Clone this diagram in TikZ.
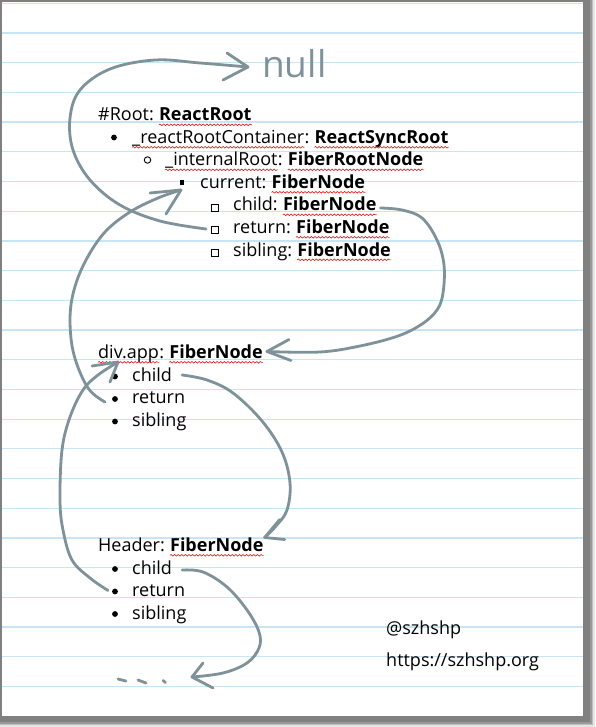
\documentclass[tikz,border=0pt]{standalone}
\usepackage{fontspec}
\setmainfont{Open Sans}
\usetikzlibrary{calc,decorations.pathmorphing}
\definecolor{spell}{RGB}{230,20,20}
\definecolor{ink}{RGB}{127,146,153}
\definecolor{rulec}{RGB}{200,229,245}
\definecolor{framec}{RGB}{128,128,128}
\newcommand\wavyunder[1]{\draw[squig] ([yshift=-3.8pt]#1.base west) -- ([yshift=-3.8pt]#1.base east);}
\newcommand\gap{\kern0.27em}
\begin{document}
\begin{tikzpicture}[x=1pt,y=-1pt,
  txt/.style={anchor=base west,inner sep=0pt,font=\fontsize{18}{21}\selectfont},
  btxt/.style={anchor=base west,inner sep=0pt,font=\fontsize{18}{21}\selectfont\bfseries},
  squig/.style={draw=spell,line width=0.6pt,decorate,decoration={snake,segment length=3.6pt,amplitude=0.8pt}},
  inkline/.style={draw=ink,line width=2.8pt,line cap=round,line join=round},
  dotb/.style={circle,fill=black,inner sep=0pt,minimum size=5.8pt},
  ocirc/.style={circle,draw=black,line width=0.9pt,inner sep=0pt,minimum size=6.5pt},
  fsq/.style={rectangle,fill=black,inner sep=0pt,minimum size=4.5pt},
  osq/.style={rectangle,draw=black,line width=0.9pt,inner sep=0pt,minimum size=7pt},
  rl/.style={draw=rulec,line width=1.2pt}
]
\useasboundingbox (0,0) rectangle (595,727);
% frame and shadow
\fill[white] (0,0) rectangle (595,727);
\fill[black!10] (0,0) rectangle (594.5,726.5);
\fill[black!25] (0,0) rectangle (593,725);
\fill[black!40] (0,0) rectangle (591.5,723.5);
\fill[framec] (0,0) rectangle (589.5,721.5);
\fill[white] (2,2) rectangle (583,716);
% ruled lines
\foreach \k in {0,...,23}{
  \draw[rl] (2,{3.3+29.7*\k}) -- (583,{3.3+29.7*\k});
}
% root block
\node[txt] (r1) at (98,121) {\#Root:\gap};
\node[btxt] (r2) at (r1.base east) {ReactRoot};
\node[dotb] (m1) at (114,137.5) {};
\node[txt] (c1) at (132,143.5) {\_reactRootContainer};
\node[txt] (c2) at (c1.base east) {:\gap};
\node[btxt] (c3) at (c2.base east) {ReactSyncRoot};
\node[ocirc] (m2) at (147.5,160) {};
\node[txt] (i1) at (165,166) {\_internalRoot};
\node[txt] (i2) at (i1.base east) {:\gap};
\node[btxt] (i3) at (i2.base east) {FiberRootNode};
\node[fsq] (mcur) at (182,182.5) {};
\node[txt] (cur) at (200,188.5) {current:\gap};
\node[btxt] (curf) at (cur.base east) {FiberNode};
\node[osq] (mch) at (215,207.5) {};
\node[txt] (rch) at (233,211) {child:\gap};
\node[btxt] (rchf) at (rch.base east) {FiberNode};
\node[osq] (mret) at (215,230) {};
\node[txt] (rret) at (233,233.5) {return:\gap};
\node[btxt] (rretf) at (rret.base east) {FiberNode};
\node[osq] (msib) at (215,252.5) {};
\node[txt] (rsib) at (233,256) {sibling:\gap};
\node[btxt] (rsibf) at (rsib.base east) {FiberNode};
% div.app block
\node[txt] (dapp) at (98,358.5) {div.app};
\node[txt] (dapp2) at (dapp.base east) {:\gap};
\node[btxt] (dappf) at (dapp2.base east) {FiberNode};
\node[dotb] (dm1) at (115,376.5) {};
\node[txt] (dch) at (132,381) {child};
\node[dotb] (dm2) at (115,399) {};
\node[txt] (dret) at (132,403.5) {return};
\node[dotb] (dm3) at (115,421.5) {};
\node[txt] (dsib) at (132,426) {sibling};
% Header block
\node[txt] (hdr) at (98,551.5) {Header:\gap};
\node[btxt] (hdrf) at (hdr.base east) {FiberNode};
\node[dotb] (hm1) at (115,569) {};
\node[txt] (hch) at (132,574) {child};
\node[dotb] (hm2) at (115,591.5) {};
\node[txt] (hret) at (132,596.5) {return};
\node[dotb] (hm3) at (115,614) {};
\node[txt] (hsib) at (132,619) {sibling};
% spelling marks
\wavyunder{r2}
\wavyunder{c1}
\wavyunder{c3}
\wavyunder{i1}
\wavyunder{i3}
\wavyunder{curf}
\wavyunder{rchf}
\wavyunder{rretf}
\wavyunder{rsibf}
\wavyunder{dapp}
\wavyunder{dappf}
\wavyunder{hdrf}
% credits
\node[txt] (at) at (386,634) {@szhshp};
\node[txt] (url) at (386,666) {https://szhshp.org};
% null
\node[anchor=base west,inner sep=0pt,text=ink,font=\fontsize{37}{40}\selectfont] (nulltxt) at (262,78) {null};
% connector end points
\coordinate (aS) at ($(mret.west)+(-5,-1)$);
\coordinate (aT) at ($(nulltxt.base west)+(-14,-11)$);
\coordinate (bS) at ($(dm2)+(-10,3)$);
\coordinate (bT) at ($(mcur)+(-1,7.5)$);
\coordinate (cS) at ($(rchf.base east)+(4,-3)$);
\coordinate (cT) at ($(dappf.base east)+(4,-7)$);
\coordinate (dS) at ($(dch.base east)+(10,-6)$);
\coordinate (dT) at ($(hdrf.base east)+(1,-14)$);
\coordinate (eS) at ($(hm2)+(-7,-1)$);
\coordinate (eT) at ($(dapp.base west)+(20,3.5)$);
\coordinate (fS) at ($(hch.base east)+(10,-4)$);
\coordinate (fT) at (192,677);
% A: root return -> null
\draw[inkline] plot[smooth,tension=0.6] coordinates {(aS) (160,221) (120,205) (90,180) (73,150) (70,118) (80,90) (110,69) (155,60) (200,63) (aT)};
\draw[inkline] ($(aT)+(-21,-14)$) -- (aT) -- ($(aT)+(-25,13)$);
% B: div.app return -> current
\draw[inkline] plot[smooth,tension=0.6] coordinates {(bS) (88,388) (74,355) (70,320) (74,290) (86,260) (105,232) (130,212) (158,198) (bT)};
\draw[inkline] ($(bT)+(-31,3)$) -- (bT) -- ($(bT)+(-15,24)$);
% C: root child -> div.app
\draw[inkline] plot[smooth,tension=0.6] coordinates {(cS) (402,210) (422,218) (437,240) (444,265) (443,293) (437,310) (422,324) (398,336) (360,346) (320,352) (cT)};
\draw[inkline] ($(cT)+(22,-12)$) -- (cT) -- ($(cT)+(24,9)$);
% D: div.app child -> Header
\draw[inkline] plot[smooth,tension=0.6] coordinates {(dS) (207,380) (233,393) (262,421) (282,452) (290,483) (287,510) (276,526) (dT)};
\draw[inkline] ($(dT)+(15,-18)$) -- (dT) -- ($(dT)+(20,2)$);
% E: Header return -> div.app
\draw[inkline] plot[smooth,tension=0.6] coordinates {(eS) (90,578) (72,560) (63,530) (60,500) (62,450) (70,417) (83,390) (98,375) (eT)};
\draw[inkline] ($(eT)+(-26,4)$) -- (eT) -- ($(eT)+(-8,20)$);
% F: Header child -> ...
\draw[inkline] plot[smooth,tension=0.6] coordinates {(fS) (203,572) (227,587) (247,610) (259,632) (259,648) (247,663) (223,673) (fT)};
\draw[inkline] ($(fT)+(11,-14)$) -- (fT) -- ($(fT)+(21,11)$);
% hand-drawn ellipsis
\draw[inkline] (118,679) -- (126,681);
\draw[inkline] (138,680) -- (146,683);
\draw[inkline] (163,680.5) -- (165.5,682.5);
\end{tikzpicture}
\end{document}
